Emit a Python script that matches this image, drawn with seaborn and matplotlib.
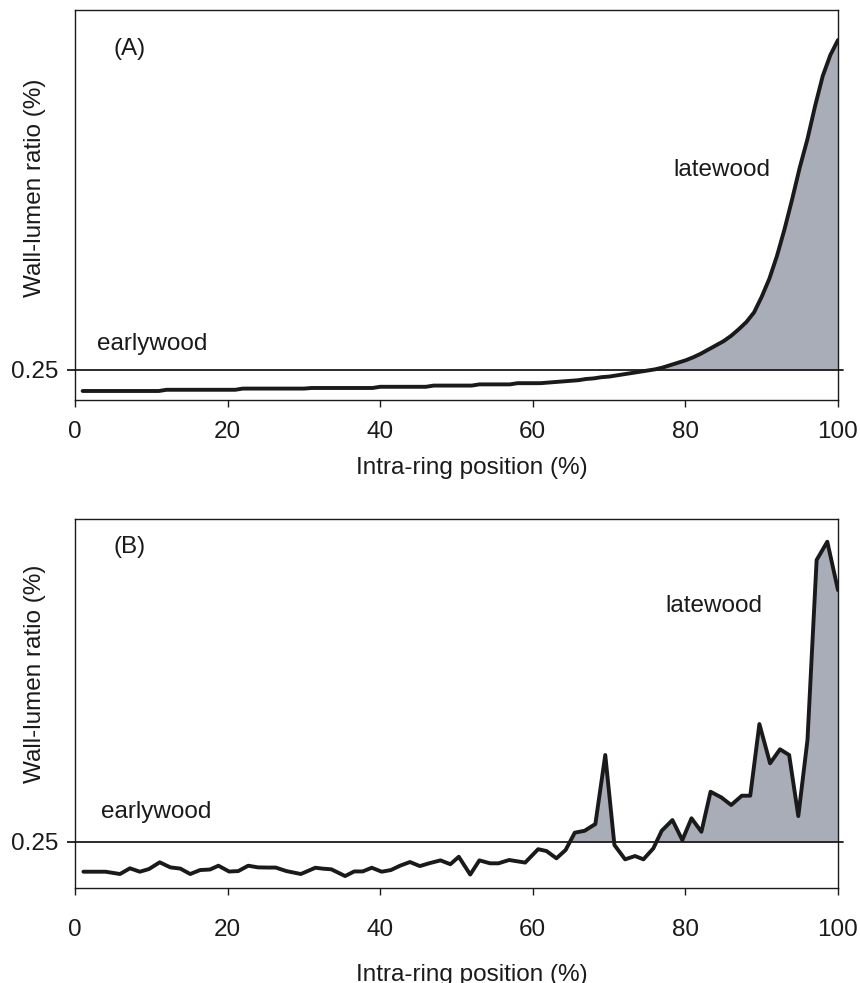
import matplotlib
matplotlib.use("Agg")
import matplotlib.pyplot as plt
import seaborn as sns
import numpy as np
import pandas as pd

# ---------------- data ----------------
a_pos = list(range(1, 101))
a_vals = [
    0.215, 0.215, 0.215, 0.215, 0.215, 0.215, 0.215, 0.215, 0.215, 0.215,
    0.215, 0.217, 0.217, 0.217, 0.217, 0.217, 0.217, 0.217, 0.217, 0.217,
    0.217, 0.219, 0.219, 0.219, 0.219, 0.219, 0.219, 0.219, 0.219, 0.219,
    0.220, 0.220, 0.220, 0.220, 0.220, 0.220, 0.220, 0.220, 0.220, 0.222,
    0.222, 0.222, 0.222, 0.222, 0.222, 0.222, 0.224, 0.224, 0.224, 0.224,
    0.224, 0.224, 0.226, 0.226, 0.226, 0.226, 0.226, 0.228, 0.228, 0.228,
    0.228, 0.229, 0.230, 0.231, 0.232, 0.233, 0.235, 0.236, 0.238, 0.239,
    0.241, 0.243, 0.245, 0.247, 0.249, 0.251, 0.254, 0.258, 0.262, 0.266,
    0.271, 0.277, 0.284, 0.291, 0.298, 0.307, 0.318, 0.330, 0.346, 0.372,
    0.402, 0.440, 0.485, 0.535, 0.588, 0.635, 0.690, 0.740, 0.775, 0.800,
]

b_pos = [1.1, 2.5, 4.0, 5.9, 7.2, 8.5, 9.7, 11.1, 12.5, 13.8,
         15.1, 16.4, 17.7, 18.8, 20.2, 21.4, 22.7, 24.0, 25.3, 26.3,
         27.7, 29.6, 31.5, 32.5, 33.6, 35.4, 36.6, 37.7, 38.9, 40.2,
         41.4, 42.6, 43.9, 45.2, 46.4, 47.9, 49.2, 50.3, 51.8, 53.0,
         54.4, 55.5, 56.9, 59.0, 60.7, 61.8, 63.1, 64.3, 65.5, 66.8,
         68.2, 69.5, 70.7, 72.1, 73.4, 74.5, 75.8, 76.9, 78.3, 79.6,
         80.8, 82.1, 83.3, 84.7, 86.0, 87.4, 88.5, 89.7, 91.1, 92.4,
         93.6, 94.8, 96.0, 97.2, 98.6, 100.0]
b_vals = [0.2177, 0.2177, 0.2177, 0.2152, 0.2214, 0.2177, 0.2206, 0.2279, 0.2224, 0.2211,
          0.2152, 0.2195, 0.2201, 0.2242, 0.2179, 0.2184, 0.2242, 0.2224, 0.2222, 0.2222,
          0.2184, 0.2152, 0.2220, 0.2210, 0.2203, 0.2130, 0.2180, 0.2180, 0.2220, 0.2177,
          0.2195, 0.2242, 0.2282, 0.2238, 0.2268, 0.2300, 0.2258, 0.2339, 0.2146, 0.2300,
          0.2268, 0.2268, 0.2304, 0.2276, 0.2421, 0.2401, 0.2322, 0.2412, 0.2600, 0.2621,
          0.2694, 0.3442, 0.2466, 0.2311, 0.2347, 0.2311, 0.2430, 0.2621, 0.2737, 0.2520,
          0.2756, 0.2610, 0.3044, 0.2983, 0.2900, 0.3001, 0.3001, 0.3778, 0.3352, 0.3504,
          0.3442, 0.2780, 0.3604, 0.5556, 0.5754, 0.5230]

threshold = 0.25
x_ticks = [0, 20, 40, 60, 80, 100]
panel_labels = ["(A)", "(B)"]
xlabel = "Intra-ring position (%)"
ylabel = "Wall-lumen ratio (%)"

# ---------------- style ----------------
sns.set_theme(style="ticks")
plt.rcParams["font.family"] = ["Liberation Sans", "DejaVu Sans"]
plt.rcParams["axes.edgecolor"] = "#1a1a1a"
plt.rcParams["axes.linewidth"] = 1.0

LINE = "#1a1a1a"
FILL = "#a9adb8"
FS = 17.5

fig = plt.figure(figsize=(8.6, 9.83), dpi=100)
axA = fig.add_axes([0.0872, 0.5931, 0.8872, 0.3967])
axB = fig.add_axes([0.0872, 0.0966, 0.8872, 0.3754])

panels = [
    (axA, a_pos, a_vals, (0.2, 0.85)),
    (axB, b_pos, b_vals, (0.2, 0.60)),
]

for ax, xs, ys, ylim in panels:
    df = pd.DataFrame({"pos": xs, "val": ys})
    xa = np.asarray(xs, float)
    ya = np.asarray(ys, float)
    ax.fill_between(xa, ya, threshold, where=ya >= threshold, interpolate=True,
                    color=FILL, linewidth=0, zorder=1)
    ax.axhline(threshold, xmin=0, xmax=1.006, color=LINE, lw=1.3,
               clip_on=False, zorder=2)
    sns.lineplot(data=df, x="pos", y="val", color=LINE, linewidth=2.8,
                 ax=ax, zorder=3)
    ax.set_xlim(0, 100)
    ax.set_ylim(*ylim)
    ax.set_xticks(x_ticks)
    ax.set_xticklabels([str(t) for t in x_ticks])
    ax.set_yticks([threshold])
    ax.set_yticklabels(["0.25"])
    ax.tick_params(axis="x", direction="out", length=5, width=1, colors=LINE,
                   labelsize=FS, labelcolor="#1a1a1a")
    ax.tick_params(axis="y", direction="out", length=6, width=1.3, colors=LINE,
                   labelsize=FS, labelcolor="#1a1a1a", pad=6)
    for s in ax.spines.values():
        s.set_visible(True)
        s.set_color(LINE)
        s.set_linewidth(1.0)
    ax.set_xlabel(xlabel, fontsize=FS, color="#1a1a1a")
    ax.set_ylabel(ylabel, fontsize=FS, color="#1a1a1a")

axA.tick_params(axis="x", pad=10)
axB.tick_params(axis="x", pad=17)
axA.xaxis.set_label_coords(0.52, -0.145)
axB.xaxis.set_label_coords(0.52, -0.205)
axA.yaxis.set_label_coords(-0.038, 0.544)
axB.yaxis.set_label_coords(-0.038, 0.58)

# annotations
axA.text(5.0, 0.785, panel_labels[0], fontsize=FS, color="#1a1a1a", va="center")
axA.text(2.9, 0.293, "earlywood", fontsize=FS, color="#1a1a1a", va="center")
axA.text(78.4, 0.583, "latewood", fontsize=FS, color="#1a1a1a", va="center")

axB.text(5.0, 0.5700, panel_labels[1], fontsize=FS, color="#1a1a1a", va="center")
axB.text(3.4, 0.2820, "earlywood", fontsize=FS, color="#1a1a1a", va="center")
axB.text(77.4, 0.5060, "latewood", fontsize=FS, color="#1a1a1a", va="center")

fig.savefig("out.png", dpi=100)
